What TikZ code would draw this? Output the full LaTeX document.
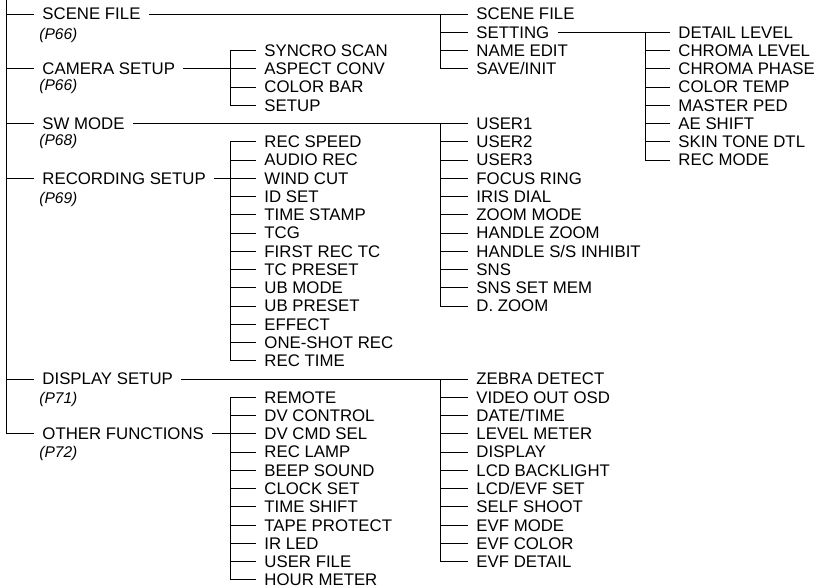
\documentclass[tikz,border=0pt]{standalone}
\usepackage{fontspec}
\setmainfont{Liberation Sans}
\usetikzlibrary{calc}

\tikzset{
  item/.style={anchor=west,inner xsep=8pt,inner ysep=0pt,text height=12pt,text depth=0pt},
  pageref/.style={item,font=\fontsize{15.5}{18}\selectfont\itshape},
}

\begin{document}
\begin{tikzpicture}[x=1pt,y=-18.25pt,line width=0.9pt,every node/.style={font=\fontsize{16.8}{20}\selectfont}]
  \useasboundingbox (0,-0.767) rectangle (824,31.45);
  % main menu
  \node[item] (scene) at (34,0) {SCENE FILE};
  \node[pageref] (pgscene) at (31,1.05) {(P66)};
  \node[item] (camera) at (34,3) {CAMERA SETUP};
  \node[pageref] (pgcamera) at (31,3.88) {(P66)};
  \node[item] (swmode) at (34,6) {SW MODE};
  \node[pageref] (pgswmode) at (31,6.88) {(P68)};
  \node[item] (recording) at (34,9) {RECORDING SETUP};
  \node[pageref] (pgrecording) at (31,10.05) {(P69)};
  \node[item] (display) at (34,20) {DISPLAY SETUP};
  \node[pageref] (pgdisplay) at (31,21) {(P71)};
  \node[item] (other) at (34,23) {OTHER FUNCTIONS};
  \node[pageref] (pgother) at (31,24) {(P72)};
  \coordinate (top) at (6,-0.767);
  \draw (top) |- (other.west);
  \foreach \n in {scene,camera,swmode,recording,display}
    \draw (top |- \n.west) -- (\n.west);

  % second level
  \foreach \t [count=\i] in {SYNCRO SCAN,ASPECT CONV,COLOR BAR,SETUP}
    \node[item] (cam\i) at (256,\i+1) {\t};
  \foreach \t [count=\i] in {REC SPEED,AUDIO REC,WIND CUT,ID SET,TIME STAMP,TCG,FIRST REC TC,
      TC PRESET,UB MODE,UB PRESET,EFFECT,ONE-SHOT REC,REC TIME}
    \node[item] (rec\i) at (256,\i+6) {\t};
  \foreach \t [count=\i] in {REMOTE,DV CONTROL,DV CMD SEL,REC LAMP,BEEP SOUND,CLOCK SET,
      TIME SHIFT,TAPE PROTECT,IR LED,USER FILE,HOUR METER}
    \node[item] (oth\i) at (256,\i+20) {\t};
  \foreach \t [count=\i] in {SCENE FILE,SETTING,NAME EDIT,SAVE/INIT}
    \node[item] (sf\i) at (468,\i-1) {\t};
  \foreach \t [count=\i] in {USER1,USER2,USER3,FOCUS RING,IRIS DIAL,ZOOM MODE,HANDLE ZOOM,
      HANDLE S/S INHIBIT,SNS,SNS SET MEM,D. ZOOM}
    \node[item] (sw\i) at (468,\i+5) {\t};
  \foreach \t [count=\i] in {ZEBRA DETECT,VIDEO OUT OSD,DATE/TIME,LEVEL METER,DISPLAY,
      LCD BACKLIGHT,LCD/EVF SET,SELF SHOOT,EVF MODE,EVF COLOR,EVF DETAIL}
    \node[item] (disp\i) at (468,\i+19) {\t};
  % third level
  \foreach \t [count=\i] in {DETAIL LEVEL,CHROMA LEVEL,CHROMA PHASE,COLOR TEMP,MASTER PED,
      AE SHIFT,SKIN TONE DTL,REC MODE}
    \node[item] (set\i) at (670,\i) {\t};

  % links to sub menus
  \draw (scene.east) -- (sf1.west);
  \draw (camera.east) -- (cam2.west);
  \draw (swmode.east) -- (sw1.west);
  \draw (recording.east) -- (rec3.west);
  \draw (display.east) -- (disp1.west);
  \draw (other.east) -- (oth3.west);
  \draw (sf2.east) -- (set1.west);

  % brackets
  \draw (cam1.west) -- ++(-26,0) |- (cam4.west);
  \foreach \i in {2,3} \draw (cam\i.west) -- ++(-26,0);
  \draw (rec1.west) -- ++(-26,0) |- (rec13.west);
  \foreach \i in {2,...,12} \draw (rec\i.west) -- ++(-26,0);
  \draw (oth1.west) -- ++(-26,0) |- (oth11.west);
  \foreach \i in {2,...,10} \draw (oth\i.west) -- ++(-26,0);
  \draw (sf1.west) -- ++(-28,0) |- (sf4.west);
  \foreach \i in {2,3} \draw (sf\i.west) -- ++(-28,0);
  \draw (sw1.west) -- ++(-28,0) |- (sw11.west);
  \foreach \i in {2,...,10} \draw (sw\i.west) -- ++(-28,0);
  \draw (disp1.west) -- ++(-28,0) |- (disp11.west);
  \foreach \i in {2,...,10} \draw (disp\i.west) -- ++(-28,0);
  \draw (set1.west) -- ++(-25,0) |- (set8.west);
  \foreach \i in {2,...,7} \draw (set\i.west) -- ++(-25,0);
\end{tikzpicture}
\end{document}
